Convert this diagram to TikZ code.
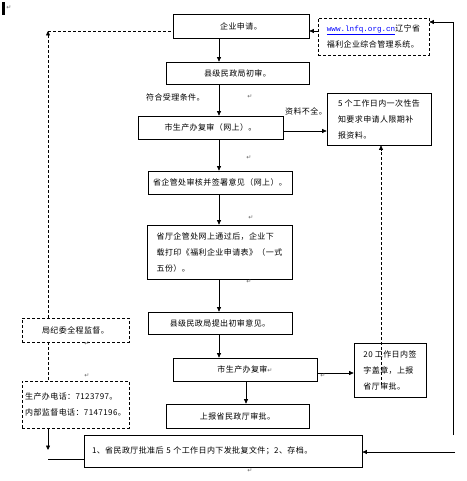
\documentclass[tikz,border=0pt]{standalone}
\usepackage{fontspec}
\newfontfamily\cjk[LetterSpace=5]{Noto Sans CJK SC}
\newfontfamily\symf{DejaVu Sans}
\newfontfamily\monof{Liberation Mono}
\usetikzlibrary{arrows.meta}
\begin{document}
\begin{tikzpicture}[x=1pt,y=-1pt,
  box/.style={draw, line width=0.7pt, inner xsep=0pt, inner ysep=0pt, align=left,
    font=\cjk\fontsize{8}{16}\selectfont},
  dbox/.style={box, dash pattern=on 3pt off 2pt},
  ln/.style={line width=0.7pt},
  dln/.style={ln, dash pattern=on 3pt off 2pt},
  arr/.style={ln, -{Triangle[length=4.5pt,width=4pt]}},
  darr/.style={dln, -{Triangle[length=4.5pt,width=4pt]}},
  lbl/.style={inner sep=0pt, font=\cjk\fontsize{8}{10}\selectfont},
  ret/.style={inner sep=0pt, text=black!60, font=\symf\fontsize{6}{6}\selectfont}]
\useasboundingbox (0,0) rectangle (466,481);

% boxes
\node[box, minimum width=136pt, minimum height=24pt] (apply) at (241,26) {企业申请。};
\node[dbox, minimum width=111pt, minimum height=37pt] (url) at (373.5,36.5)
  {{\monof\fontsize{7.6}{16}\selectfont\color{blue}\underline{www.lnfq.org.cn}}辽宁省\\福利企业综合管理系统。};
\node[box, minimum width=143pt, minimum height=22pt] (county1) at (237.5,73) {县级民政局初审。};
\node[box, minimum width=145pt, minimum height=23pt] (city1) at (210.5,127.5) {市生产办复审（网上）。};
\node[box, minimum width=104pt, minimum height=52pt] (notify) at (379,119)
  {5 个工作日内一次性告\\知要求申请人限期补\\报资料。};
\node[box, minimum width=144pt, minimum height=23pt] (prov1) at (220,182.5) {省企管处审核并签署意见（网上）。};
\node[box, minimum width=145pt, minimum height=54pt] (prov2) at (219.5,252)
  {省厅企管处网上通过后，企业下\\载打印《福利企业申请表》（一式\\五份）。};
\node[box, minimum width=144pt, minimum height=22pt] (county2) at (220,323) {县级民政局提出初审意见。};
\node[box, minimum width=144pt, minimum height=23pt] (city2) at (245,369.5) {市生产办复审{\symf\fontsize{6}{6}\selectfont\color{black!60}↵}};
\node[box, minimum width=72pt, minimum height=54pt] (sign) at (390,370)
  {20 工作日内签\\字盖章，上报\\省厅审批。};
\node[box, minimum width=143pt, minimum height=24pt] (report) at (237.5,416) {上报省民政厅审批。};
\node[box, text width=262pt, inner xsep=8pt, minimum height=32pt] (final) at (223,451)
  {1、省民政厅批准后 5 个工作日内下发批复文件；2、存档。};
\node[dbox, minimum width=107pt, minimum height=24pt] (jiwei) at (75.5,330) {局纪委全程监督。};
\node[dbox, minimum width=107pt, minimum height=47pt, font=\cjk\fontsize{8}{15.5}\selectfont] (phone) at (75.5,404.5)
  {生产办电话：7123797。\\内部监督电话：7147196。};

% labels
\node[lbl, anchor=west] (lok) at (146,97) {符合受理条件。};
\node[lbl, anchor=east] (lno) at (327,111) {资料不全。};

% helper coordinates
\coordinate (c219) at (219,0);
\coordinate (c246) at (246,0);
\coordinate (c381) at (381,0);
\coordinate (y31) at (0,31);
\coordinate (y131) at (0,131);
\coordinate (y373) at (0,373);
\coordinate (d1) at (381,385);
\coordinate (r1) at (453,435);
\coordinate (r2) at (453,22);
\coordinate (r3) at (455,452);
\coordinate (l1) at (48,31);
\coordinate (l2) at (48,450);
\coordinate (l3) at (48,459);

% main flow
\draw[arr] (apply.south -| c219) -- (county1.north -| c219);
\draw[arr] (county1.south -| c219) -- (city1.north -| c219);
\draw[arr] (city1.south -| c219) -- (prov1.north -| c219);
\draw[arr] (prov1.south -| c219) -- (prov2.north -| c219);
\draw[arr] (prov2.south -| c219) -- (county2.north -| c219);
\draw[arr] (county2.south -| c219) -- (city2.north -| c219);
\draw[arr] (city2.south -| c246) -- (report.north -| c246);
\draw[arr] (city1.east |- y131) -- (notify.west |- y131);
\draw[arr] (city2.east |- y373) -- (sign.west |- y373);
\draw[darr] (d1) -- (notify.south -| c381);
\draw[arr] (url.west |- y31) -- (apply.east |- y31);

% right loop
\draw[arr] (r1) -- (r2) -- (url.east |- r2);
\draw[arr] (r3) -- (final.east |- r3);

% left supervision
\draw[darr] (jiwei.north -| l1) -- (l1);
\draw[dln] (l1) -- (apply.west |- l1);
\draw[dln] (jiwei.south -| l1) -- (phone.north -| l1);
\draw[arr] (phone.south -| l1) -- (l2);
\draw[ln] (l3) -- (final.west |- l3);

% paragraph marks
\fill (2,2) rectangle (4.5,15);
\node[ret] (p0) at (9,8) {↵};
\node[ret] (p1) at (250,97) {↵};
\node[ret] (p2) at (249,158) {↵};
\node[ret] (p3) at (251,218) {↵};
\node[ret] (p4) at (249,282) {↵};
\node[ret] (p5) at (87,344) {↵};
\node[ret] (p6) at (87,376) {↵};
\node[ret] (p7) at (323,376) {↵};
\node[ret] (p8) at (250,471) {↵};
\end{tikzpicture}
\end{document}
